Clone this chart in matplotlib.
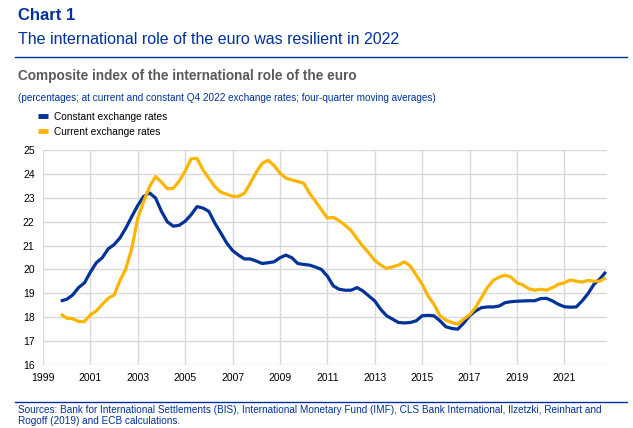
import numpy as np
import matplotlib
matplotlib.use("Agg")
import matplotlib.pyplot as plt

plt.rcParams['font.family'] = ['Liberation Sans', 'DejaVu Sans']

# quarterly, four-quarter moving averages, 1999 Q4 to 2022 Q4
start_year = 1999.75
constant_fx = [
    18.68, 18.75, 18.93, 19.24, 19.44, 19.89, 20.28, 20.49, 20.86, 21.04,
    21.32, 21.74, 22.22, 22.68, 23.06, 23.20, 22.99, 22.43, 21.99, 21.81,
    21.85, 22.02, 22.29, 22.63, 22.57, 22.43, 21.94, 21.53, 21.11, 20.79,
    20.60, 20.44, 20.44, 20.35, 20.25, 20.28, 20.32, 20.49, 20.60, 20.49,
    20.25, 20.21, 20.18, 20.10, 20.00, 19.72, 19.31, 19.17, 19.13, 19.13,
    19.24, 19.10, 18.89, 18.68, 18.33, 18.06, 17.92, 17.78, 17.76, 17.78,
    17.85, 18.06, 18.08, 18.06, 17.85, 17.60, 17.53, 17.50, 17.75, 18.06,
    18.26, 18.40, 18.43, 18.43, 18.47, 18.61, 18.65, 18.67, 18.68, 18.69,
    18.69, 18.78, 18.79, 18.68, 18.54, 18.44, 18.42, 18.43, 18.68, 18.99,
    19.38, 19.60, 19.90,
]
current_fx = [
    18.13, 17.96, 17.94, 17.82, 17.82, 18.10, 18.26, 18.54, 18.79, 18.93,
    19.54, 20.04, 20.90, 22.15, 22.85, 23.47, 23.89, 23.65, 23.38, 23.40,
    23.70, 24.12, 24.63, 24.65, 24.17, 23.82, 23.47, 23.24, 23.15, 23.06,
    23.06, 23.19, 23.61, 24.07, 24.44, 24.57, 24.35, 24.03, 23.82, 23.75,
    23.68, 23.61, 23.19, 22.85, 22.50, 22.15, 22.18, 22.04, 21.85, 21.63,
    21.29, 20.97, 20.69, 20.38, 20.18, 20.04, 20.11, 20.18, 20.32, 20.14,
    19.76, 19.38, 18.89, 18.54, 18.06, 17.88, 17.78, 17.71, 17.92, 18.10,
    18.40, 18.82, 19.24, 19.54, 19.68, 19.76, 19.68, 19.44, 19.35, 19.19,
    19.13, 19.17, 19.13, 19.24, 19.38, 19.44, 19.56, 19.51, 19.47, 19.54,
    19.51, 19.51, 19.65,
]
series_labels = ["Constant exchange rates", "Current exchange rates"]
x_ticks = list(range(1999, 2022, 2))
y_ticks = list(range(16, 26))

blue = "#003299"
yellow = "#ffb400"
grid_col = "#d9d9d9"

W, H = 633, 428
def fx(px):
    return px / W
def fy(py):
    return 1 - py / H

fig = plt.figure(figsize=(W / 100, H / 100), dpi=100)
ax = fig.add_axes([fx(43), fy(365), fx(607) - fx(43), fy(150) - fy(365)])

t = start_year + 0.25 * np.arange(len(constant_fx))
l1, = ax.plot(t, constant_fx, color=blue, lw=2.3, solid_capstyle='butt')
l2, = ax.plot(t, current_fx, color=yellow, lw=2.3, solid_capstyle='butt')

ax.set_xlim(1999, 2022.8)
ax.set_ylim(16, 25)
ax.set_xticks(x_ticks)
ax.set_yticks(y_ticks)
ax.grid(True, color=grid_col, lw=1)
ax.set_axisbelow(True)
for s in ax.spines.values():
    s.set_visible(False)
ax.tick_params(length=0, labelsize=7.5, colors="#000000", pad=6)

# legend
leg = fig.legend([l1, l2], series_labels, loc='upper left',
                 bbox_to_anchor=(fx(38), fy(112)), frameon=False,
                 fontsize=7.3, handlelength=1.0, handletextpad=0.6,
                 labelspacing=0.45, borderaxespad=0, borderpad=0)
for h in leg.legend_handles:
    h.set_linewidth(3.5)

# headings
fig.text(fx(18), fy(15), "Chart 1", color=blue, fontsize=12, weight='bold', va='center')
fig.text(fx(18), fy(40), "The international role of the euro was resilient in 2022",
         color=blue, fontsize=11.5, va='center')
fig.add_artist(plt.Line2D([fx(15), fx(627)], [fy(57), fy(57)], color=blue, lw=1))
fig.text(fx(18), fy(76), "Composite index of the international role of the euro",
         color="#5a5a5a", fontsize=9.8, weight='bold', va='center')
fig.text(fx(18), fy(98),
         "(percentages; at current and constant Q4 2022 exchange rates; four-quarter moving averages)",
         color=blue, fontsize=7.2, va='center')

fig.add_artist(plt.Line2D([fx(15), fx(627)], [fy(402), fy(402)], color=blue, lw=1))
fig.text(fx(18), fy(410),
         "Sources: Bank for International Settlements (BIS), International Monetary Fund (IMF), CLS Bank International, Ilzetzki, Reinhart and",
         color=blue, fontsize=7.2, va='center')
fig.text(fx(18), fy(421), "Rogoff (2019) and ECB calculations.",
         color=blue, fontsize=7.2, va='center')

fig.savefig("out.png", dpi=100)
